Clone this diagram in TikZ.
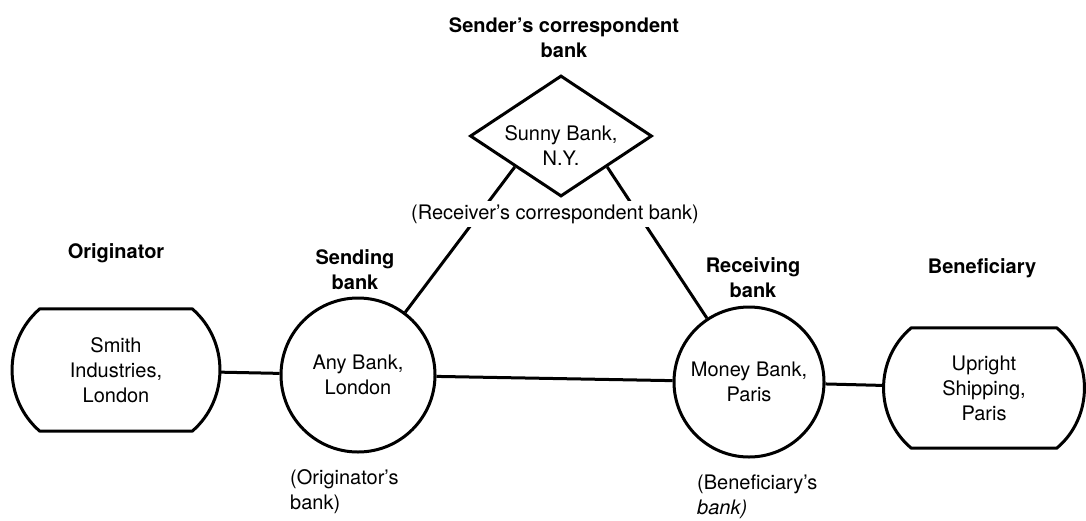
\documentclass[tikz,border=0pt]{standalone}
\usepackage{fontspec}
\setmainfont{TeX Gyre Heros}
\usetikzlibrary{shapes.geometric}
\begin{document}
\begin{tikzpicture}[x=1pt,y=-1pt,
  every node/.style={font=\fontsize{20}{25}\selectfont, inner sep=0pt, align=center},
  hdr/.style={font=\fontsize{20}{25}\selectfont\bfseries},
  conn/.style={line width=3pt, line join=round},
  bankcircle/.style={circle, draw, line width=3pt, minimum size=#1},
  termbox/.style={rectangle, minimum width=#1, minimum height=122pt},
  plainlabel/.style={anchor=west, align=left},
]
\useasboundingbox (0,0) rectangle (1086,520);

% terminal shapes
\node[termbox=208pt] (smith) at (116,370) {Smith\\Industries,\\London};
\node[termbox=201pt, minimum height=120pt] (upright) at (984,388) {Upright\\Shipping,\\Paris};
\draw[conn] ([xshift=28pt]smith.north west) -- ([xshift=-28pt]smith.north east)
  .. controls +(37,32) and +(37,-32) .. ([xshift=-28pt]smith.south east)
  -- ([xshift=28pt]smith.south west)
  .. controls +(-37,-32) and +(-37,32) .. ([xshift=28pt]smith.north west) -- cycle;
\draw[conn] ([xshift=28pt]upright.north west) -- ([xshift=-28pt]upright.north east)
  .. controls +(37,31) and +(37,-31) .. ([xshift=-28pt]upright.south east)
  -- ([xshift=28pt]upright.south west)
  .. controls +(-37,-31) and +(-37,31) .. ([xshift=28pt]upright.north west) -- cycle;

% banks
\node[bankcircle=154pt] (anybank) at (358,375) {Any Bank,\\London};
\node[bankcircle=150pt] (money) at (749,382) {Money Bank,\\Paris};
\node[diamond, draw, line width=3pt, minimum width=182pt, minimum height=121pt, inner sep=0pt] (sunny) at (561,136) {};
\node (sunnytext) at (561,146) {Sunny Bank,\\N.Y.};

% connectors
\draw[conn] (smith) -- (anybank);
\draw[conn] (anybank) -- (money);
\draw[conn] (money) -- (upright);
\draw[conn] (sunny.south west) -- (anybank);
\draw[conn] (sunny.south east) -- (money);

\node[fill=white, inner sep=4pt] (recvcorr) at (555,214) {(Receiver's correspondent bank)};

% headers
\node[hdr] (sendercorr) at (564,38) {Sender's correspondent\\bank};
\node[hdr] (orig) at (116,253) {Originator};
\node[hdr] (sending) at (355,270) {Sending\\bank};
\node[hdr] (receiving) at (753,278) {Receiving\\bank};
\node[hdr] (benef) at (982,268) {Beneficiary};

% lower notes
\node[plainlabel] (origbank) at (290,492) {(Originator's\\bank)};
\node[plainlabel] (benefbank) at (697,497) {(Beneficiary's\\\textit{bank)}};
\end{tikzpicture}
\end{document}
